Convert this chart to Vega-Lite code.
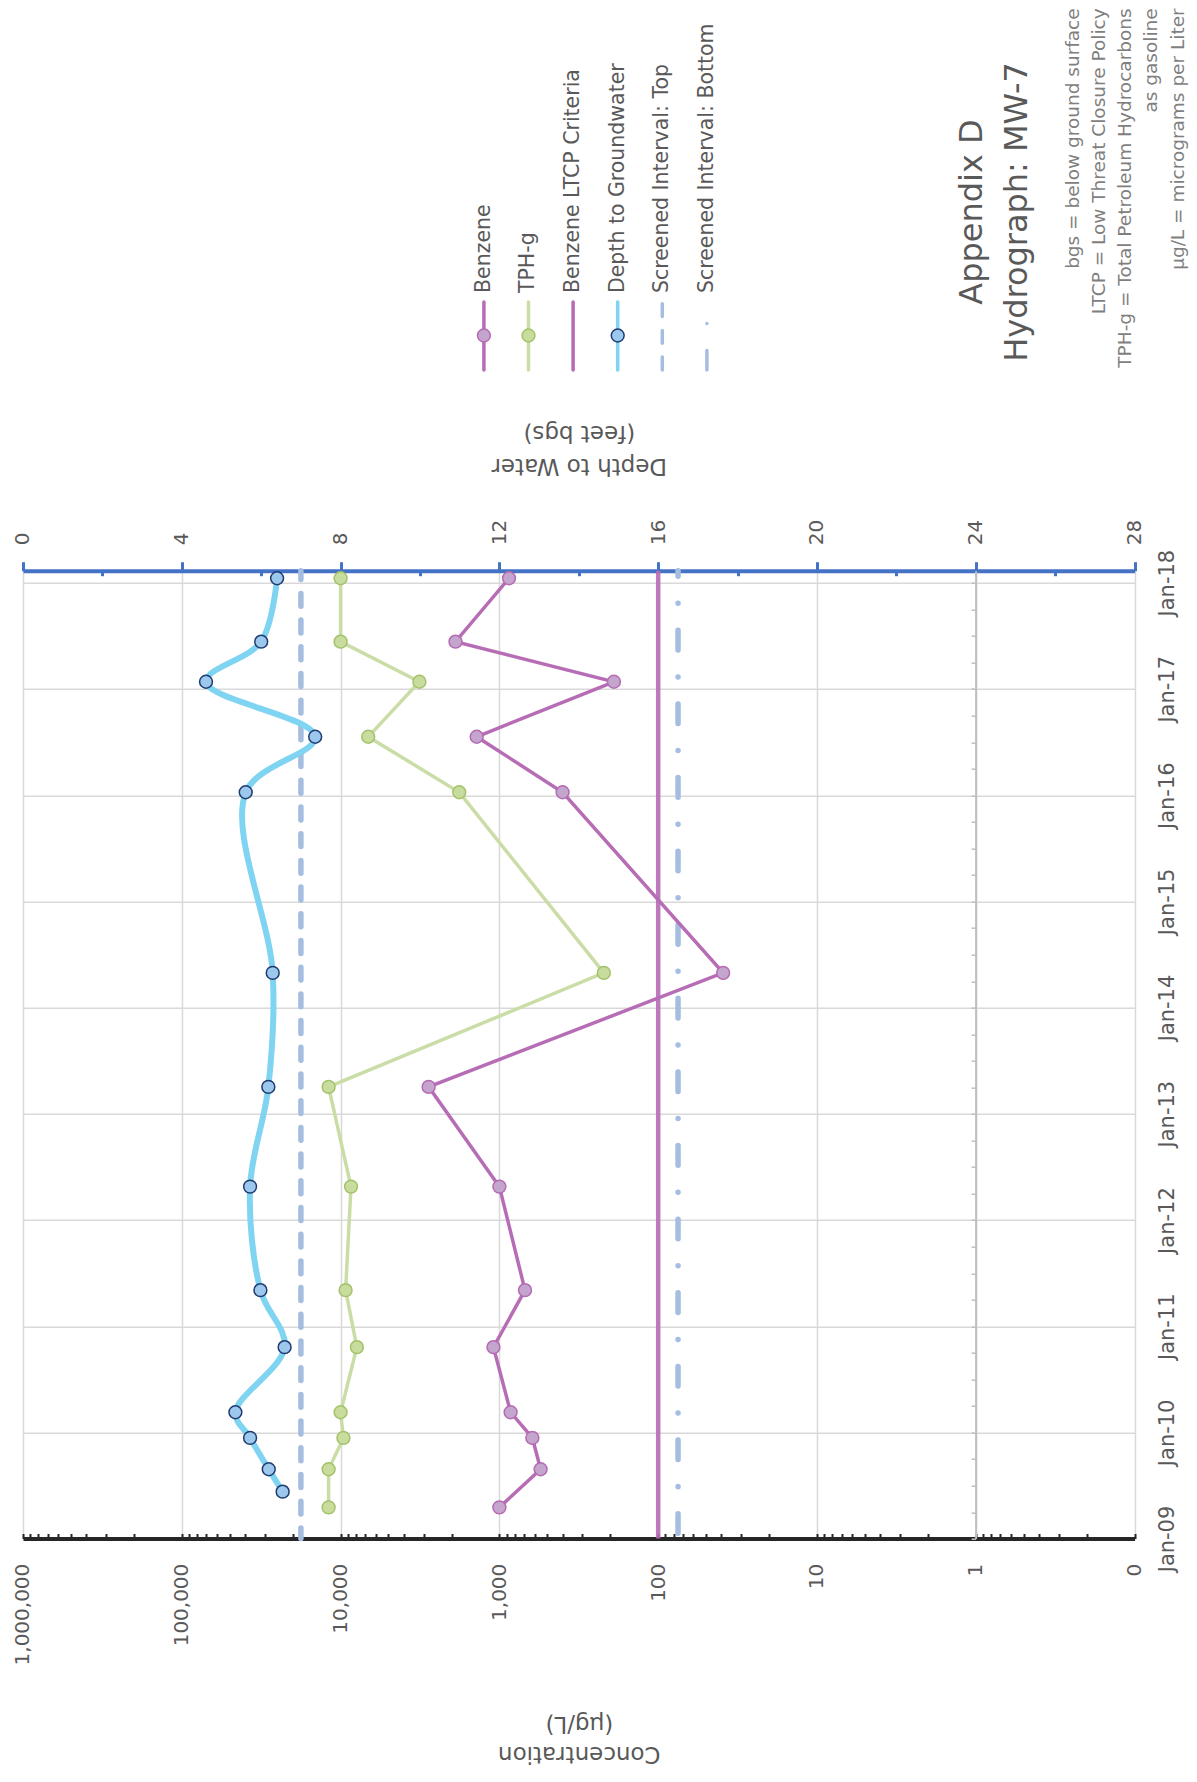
{
  "$schema": "https://vega.github.io/schema/vega-lite/v6.json",
  "background": "white",
  "padding": {"left": 13, "top": 0, "right": 4, "bottom": 4},
  "bounds": "flush",
  "spacing": 30.7,
  "config": {
    "font": "DejaVu Sans",
    "view": {"stroke": null},
    "axis": {"labelFont": "DejaVu Sans", "titleFont": "DejaVu Sans"}
  },
  "datasets": {
    "concentrations": [
      {"date": "2009-04-18", "analyte": "Benzene", "value": 1000},
      {"date": "2009-08-27", "analyte": "Benzene", "value": 550},
      {"date": "2009-12-13", "analyte": "Benzene", "value": 620},
      {"date": "2010-03-11", "analyte": "Benzene", "value": 850},
      {"date": "2010-10-21", "analyte": "Benzene", "value": 1090},
      {"date": "2011-05-05", "analyte": "Benzene", "value": 690},
      {"date": "2012-04-25", "analyte": "Benzene", "value": 1000},
      {"date": "2013-04-03", "analyte": "Benzene", "value": 2790},
      {"date": "2014-04-30", "analyte": "Benzene", "value": 39},
      {"date": "2016-01-11", "analyte": "Benzene", "value": 400},
      {"date": "2016-07-20", "analyte": "Benzene", "value": 1390},
      {"date": "2017-01-25", "analyte": "Benzene", "value": 190},
      {"date": "2017-06-12", "analyte": "Benzene", "value": 1890},
      {"date": "2018-01-16", "analyte": "Benzene", "value": 870},
      {"date": "2009-04-18", "analyte": "TPH-g", "value": 11900},
      {"date": "2009-08-27", "analyte": "TPH-g", "value": 11900},
      {"date": "2009-12-13", "analyte": "TPH-g", "value": 9600},
      {"date": "2010-03-11", "analyte": "TPH-g", "value": 10000},
      {"date": "2010-10-21", "analyte": "TPH-g", "value": 7900},
      {"date": "2011-05-05", "analyte": "TPH-g", "value": 9300},
      {"date": "2012-04-25", "analyte": "TPH-g", "value": 8600},
      {"date": "2013-04-03", "analyte": "TPH-g", "value": 11900},
      {"date": "2014-04-30", "analyte": "TPH-g", "value": 220},
      {"date": "2016-01-11", "analyte": "TPH-g", "value": 1790},
      {"date": "2016-07-20", "analyte": "TPH-g", "value": 6700},
      {"date": "2017-01-25", "analyte": "TPH-g", "value": 3190},
      {"date": "2017-06-12", "analyte": "TPH-g", "value": 10000},
      {"date": "2018-01-16", "analyte": "TPH-g", "value": 10000}
    ],
    "gauging": [
      {"date": "2009-06-11", "depth": 6.54},
      {"date": "2009-08-27", "depth": 6.19},
      {"date": "2009-12-13", "depth": 5.72},
      {"date": "2010-03-11", "depth": 5.35},
      {"date": "2010-10-21", "depth": 6.59},
      {"date": "2011-05-05", "depth": 5.98},
      {"date": "2012-04-25", "depth": 5.72},
      {"date": "2013-04-03", "depth": 6.18},
      {"date": "2014-04-30", "depth": 6.29},
      {"date": "2016-01-11", "depth": 5.61},
      {"date": "2016-07-20", "depth": 7.36},
      {"date": "2017-01-25", "depth": 4.61},
      {"date": "2017-06-12", "depth": 6.0},
      {"date": "2018-01-16", "depth": 6.4}
    ],
    "legend": [
      {"series": "Benzene"},
      {"series": "TPH-g"},
      {"series": "Benzene LTCP Criteria"},
      {"series": "Depth to Groundwater"},
      {"series": "Screened Interval: Top"},
      {"series": "Screened Interval: Bottom"}
    ],
    "heading": [
      {"text": "Appendix D\nHydrograph: MW-7"}
    ],
    "notes": [
      {"text": "bgs = below ground surface\nLTCP = Low Threat Closure Policy\nTPH-g = Total Petroleum Hydrocarbons\nas gasoline\nµg/L = micrograms per Liter"}
    ]
  },
  "vconcat": [
    {
      "width": 1111.6,
      "height": 540,
      "layer": [
        {
          "data": {"name": "legend"},
          "mark": {"type": "rule", "strokeCap": "round"},
          "encoding": {
            "x": {"field": "series", "type": "nominal", "axis": null,
                  "scale": {"type": "point", "domain": ["Benzene", "TPH-g", "Benzene LTCP Criteria", "Depth to Groundwater", "Screened Interval: Top", "Screened Interval: Bottom"], "padding": 0, "range": [460.9, 683.9]}},
            "y": {"datum": 0.6852, "type": "quantitative", "axis": null, "scale": {"domain": [0, 1], "reverse": true, "nice": false, "zero": false}},
            "y2": {"datum": 0.5593},
            "color": {"field": "series", "type": "nominal", "legend": null,
                      "scale": {"domain": ["Benzene", "TPH-g", "Benzene LTCP Criteria", "Depth to Groundwater", "Screened Interval: Top", "Screened Interval: Bottom"],
                                "range": ["#B76DB5", "#CADDA6", "#B86AB6", "#7FD4F2", "#A5BEE0", "#A5BEE0"]}},
            "strokeWidth": {"field": "series", "type": "nominal", "legend": null,
                            "scale": {"domain": ["Benzene", "TPH-g", "Benzene LTCP Criteria", "Depth to Groundwater", "Screened Interval: Top", "Screened Interval: Bottom"],
                                      "range": [3.5, 3.5, 4.5, 6, 5.5, 5.5]}},
            "strokeDash": {"field": "series", "type": "nominal", "legend": null,
                           "scale": {"domain": ["Benzene", "TPH-g", "Benzene LTCP Criteria", "Depth to Groundwater", "Screened Interval: Top", "Screened Interval: Bottom"],
                                     "range": [[1, 0], [1, 0], [1, 0], [1, 0], [12.9, 13.8], [19.6, 27, 0.01, 27]]}}
          }
        },
        {
          "data": {"name": "legend"},
          "transform": [{"filter": "datum.series === 'Benzene' || datum.series === 'TPH-g' || datum.series === 'Depth to Groundwater'"}],
          "mark": {"type": "point", "filled": true, "size": 165, "strokeWidth": 1.5, "opacity": 1},
          "encoding": {
            "x": {"field": "series", "type": "nominal", "axis": null,
                  "scale": {"type": "point", "domain": ["Benzene", "TPH-g", "Benzene LTCP Criteria", "Depth to Groundwater", "Screened Interval: Top", "Screened Interval: Bottom"], "padding": 0, "range": [460.9, 683.9]}},
            "y": {"datum": 0.6213, "type": "quantitative"},
            "fill": {"field": "series", "type": "nominal", "legend": null,
                     "scale": {"domain": ["Benzene", "TPH-g", "Depth to Groundwater"], "range": ["#C3A5CE", "#C8DC9E", "#9DC8EE"]}},
            "stroke": {"field": "series", "type": "nominal", "legend": null,
                       "scale": {"domain": ["Benzene", "TPH-g", "Depth to Groundwater"], "range": ["#B56AB3", "#A3C26A", "#1F3B70"]}}
          }
        },
        {
          "data": {"name": "legend"},
          "mark": {"type": "text", "angle": -90, "align": "left", "baseline": "middle", "fontSize": 20.5, "color": "#595959"},
          "encoding": {
            "x": {"field": "series", "type": "nominal", "axis": null,
                  "scale": {"type": "point", "domain": ["Benzene", "TPH-g", "Benzene LTCP Criteria", "Depth to Groundwater", "Screened Interval: Top", "Screened Interval: Bottom"], "padding": 0, "range": [460.9, 683.9]}},
            "y": {"datum": 0.5426, "type": "quantitative"},
            "text": {"field": "series", "type": "nominal"}
          }
        },
        {
          "data": {"name": "heading"},
          "mark": {"type": "text", "angle": -90, "align": "center", "baseline": "middle", "fontSize": 32, "lineBreak": "\n", "lineHeight": 45, "color": "#595959"},
          "encoding": {
            "x": {"datum": 0.8536, "type": "quantitative", "axis": null, "scale": {"domain": [0, 1], "nice": false, "zero": false}},
            "y": {"datum": 0.3926, "type": "quantitative"},
            "text": {"field": "text", "type": "nominal"}
          }
        },
        {
          "data": {"name": "notes"},
          "mark": {"type": "text", "angle": -90, "align": "right", "baseline": "middle", "fontSize": 18.5, "lineBreak": "\n", "lineHeight": 26.2, "color": "#7F7F7F"},
          "encoding": {
            "x": {"datum": 0.9445, "type": "quantitative", "axis": null, "scale": {"domain": [0, 1], "nice": false, "zero": false}},
            "y": {"datum": 0.0155, "type": "quantitative"},
            "text": {"field": "text", "type": "nominal"}
          }
        }
      ],
      "resolve": {"scale": {"x": "independent", "fill": "independent", "stroke": "independent"}}
    },
    {
      "width": 1111.6,
      "height": 967.8,
      "layer": [
        {
          "layer": [
            {
              "data": {"values": [{}]},
              "mark": {"type": "rule", "color": "#A5BEE0", "strokeWidth": 5.5, "strokeCap": "round", "strokeDash": [12.9, 13.8], "strokeDashOffset": 4},
              "encoding": {"x": {"datum": 7, "type": "quantitative", "scale": {"domain": [0, 28], "nice": false, "zero": false}}}
            },
            {
              "data": {"values": [{}]},
              "mark": {"type": "rule", "color": "#A5BEE0", "strokeWidth": 5.5, "strokeCap": "round", "strokeDash": [19.6, 27, 0.01, 27], "strokeDashOffset": 14},
              "encoding": {"x": {"datum": 16.5, "type": "quantitative", "scale": {"domain": [0, 28], "nice": false, "zero": false}}}
            },
            {
              "data": {"name": "gauging"},
              "mark": {"type": "line", "interpolate": "catmull-rom", "color": "#7FD4F2", "strokeWidth": 6},
              "encoding": {
                "x": {"field": "depth", "type": "quantitative",
                      "scale": {"domain": [0, 28], "nice": false, "zero": false},
                      "axis": {
                        "orient": "top",
                        "title": ["Depth to Water", "(feet bgs)"],
                        "values": [0,1,2,3,4,5,6,7,8,9,10,11,12,13,14,15,16,17,18,19,20,21,22,23,24,25,26,27,28],
                        "labelExpr": "datum.value % 4 === 0 ? datum.label : ''",
                        "labelAngle": -90, "labelAlign": "left", "labelBaseline": "middle",
                        "labelFontSize": 20, "labelColor": "#595959", "labelPadding": 17,
                        "labelOverlap": false, "labelFlush": false,
                        "domainColor": "#4472C4", "domainWidth": 4,
                        "tickColor": "#4472C4", "tickWidth": 3,
                        "tickSize": {"condition": {"test": "datum.value % 4 === 0", "value": 9}, "value": -5},
                        "grid": false,
                        "titleAngle": 180, "titleBaseline": "top", "titleAlign": "center",
                        "titleFontSize": 23, "titleFontWeight": "normal", "titleColor": "#595959",
                        "titleLineHeight": 33, "titleX": 555.8, "titleY": -94
                      }},
                "y": {"field": "date", "type": "temporal",
                      "scale": {"type": "utc", "nice": false, "domain": [{"year": 2009, "month": 1, "date": 1, "utc": true}, {"year": 2018, "month": 2, "date": 11, "utc": true}]},
                      "axis": {
                        "orient": "left", "offset": -952.6, "title": null,
                        "labels": false, "grid": false,
                        "domainColor": "#BFBFBF", "domainWidth": 2,
                        "tickColor": "#BFBFBF", "tickWidth": 1.5, "tickSize": 4.5,
                        "tickCount": {"interval": "month", "step": 3}
                      }},
                "order": {"field": "date", "type": "temporal"}
              }
            },
            {
              "data": {"name": "gauging"},
              "mark": {"type": "point", "filled": true, "fill": "#9DC8EE", "stroke": "#1F3B70", "strokeWidth": 1.5, "size": 165, "opacity": 1},
              "encoding": {
                "x": {"field": "depth", "type": "quantitative", "scale": {"domain": [0, 28], "nice": false, "zero": false}},
                "y": {"field": "date", "type": "temporal"}
              }
            }
          ]
        },
        {
          "layer": [
            {
              "data": {"name": "concentrations"},
              "transform": [{"filter": "datum.analyte === 'TPH-g'"}],
              "mark": {"type": "line", "color": "#CADDA6", "strokeWidth": 3.5},
              "encoding": {
                "x": {"field": "value", "type": "quantitative", "scale": {"type": "log", "domain": [0.1, 1000000], "reverse": true, "nice": false}},
                "y": {"field": "date", "type": "temporal"},
                "order": {"field": "date", "type": "temporal"}
              }
            },
            {
              "data": {"name": "concentrations"},
              "transform": [{"filter": "datum.analyte === 'TPH-g'"}],
              "mark": {"type": "point", "filled": true, "fill": "#C8DC9E", "stroke": "#A3C26A", "strokeWidth": 1.5, "size": 165, "opacity": 1},
              "encoding": {
                "x": {"field": "value", "type": "quantitative", "scale": {"type": "log", "domain": [0.1, 1000000], "reverse": true, "nice": false}},
                "y": {"field": "date", "type": "temporal"}
              }
            },
            {
              "data": {"name": "concentrations"},
              "transform": [{"filter": "datum.analyte === 'Benzene'"}],
              "mark": {"type": "line", "color": "#B76DB5", "strokeWidth": 3.5},
              "encoding": {
                "x": {"field": "value", "type": "quantitative",
                      "scale": {"type": "log", "domain": [0.1, 1000000], "reverse": true, "nice": false},
                      "axis": {
                        "orient": "bottom",
                        "title": ["Concentration", "(µg/L)"],
                        "values": [0.1,0.2,0.3,0.4,0.5,0.6,0.7,0.8,0.9,1,2,3,4,5,6,7,8,9,10,20,30,40,50,60,70,80,90,100,200,300,400,500,600,700,800,900,1000,2000,3000,4000,5000,6000,7000,8000,9000,10000,20000,30000,40000,50000,60000,70000,80000,90000,100000,200000,300000,400000,500000,600000,700000,800000,900000,1000000],
                        "labelExpr": "datum.value < 0.15 ? '0' : (abs(log(datum.value) / LN10 - round(log(datum.value) / LN10)) < 0.000001 ? format(datum.value, ',') : '')",
                        "labelAngle": -90, "labelAlign": "right", "labelBaseline": "middle",
                        "labelFontSize": 20, "labelColor": "#595959", "labelPadding": 29.7,
                        "labelOverlap": false, "labelFlush": false,
                        "domainColor": "#262626", "domainWidth": 4,
                        "tickColor": "#262626", "tickWidth": 2, "tickSize": -5,
                        "grid": true, "gridColor": "#D9D9D9", "gridWidth": 1.5,
                        "gridOpacity": {"condition": {"test": "abs(log(datum.value) / LN10 - round(log(datum.value) / LN10)) < 0.000001", "value": 1}, "value": 0},
                        "titleAngle": 180, "titleBaseline": "bottom", "titleAlign": "center",
                        "titleFontSize": 23, "titleFontWeight": "normal", "titleColor": "#595959",
                        "titleLineHeight": 31, "titleX": 555.8, "titleY": 203.5
                      }},
                "y": {"field": "date", "type": "temporal",
                      "scale": {"type": "utc", "nice": false, "domain": [{"year": 2009, "month": 1, "date": 1, "utc": true}, {"year": 2018, "month": 2, "date": 11, "utc": true}]},
                      "axis": {
                        "orient": "right", "title": null,
                        "format": "%b-%y",
                        "tickCount": {"interval": "year", "step": 1},
                        "labelAngle": -90, "labelAlign": "center", "labelBaseline": "top",
                        "labelFontSize": 21, "labelColor": "#595959", "labelPadding": 22,
                        "labelOverlap": false, "labelFlush": false,
                        "domain": false, "ticks": false,
                        "grid": true, "gridColor": "#D9D9D9", "gridWidth": 1.5
                      }},
                "order": {"field": "date", "type": "temporal"}
              }
            },
            {
              "data": {"name": "concentrations"},
              "transform": [{"filter": "datum.analyte === 'Benzene'"}],
              "mark": {"type": "point", "filled": true, "fill": "#C3A5CE", "stroke": "#B56AB3", "strokeWidth": 1.5, "size": 165, "opacity": 1},
              "encoding": {
                "x": {"field": "value", "type": "quantitative", "scale": {"type": "log", "domain": [0.1, 1000000], "reverse": true, "nice": false}},
                "y": {"field": "date", "type": "temporal"}
              }
            },
            {
              "data": {"values": [{}]},
              "mark": {"type": "rule", "color": "#B86AB6", "strokeWidth": 4.5, "opacity": 0.9},
              "encoding": {"x": {"datum": 100, "type": "quantitative", "scale": {"type": "log", "domain": [0.1, 1000000], "reverse": true, "nice": false}}}
            }
          ]
        }
      ],
      "resolve": {"scale": {"x": "independent"}, "axis": {"x": "independent", "y": "independent"}}
    }
  ]
}
